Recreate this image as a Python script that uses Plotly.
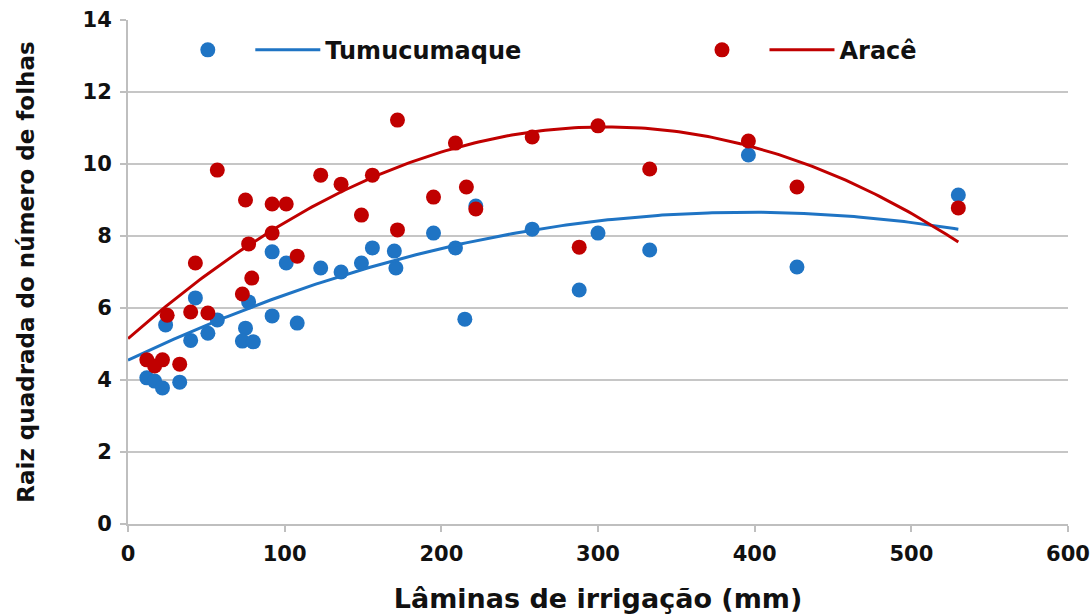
import numpy as np
import plotly.graph_objects as go

# Tumucumaque (blue) observations
tumu_x = [12, 17, 22, 33, 24, 43, 40, 51, 57, 75, 73, 80, 77, 92, 92, 101, 108, 123, 136, 149,
          156, 170, 171, 195, 209, 215, 222, 258, 288, 300, 333, 396, 427, 530]
tumu_y = [4.06, 3.97, 3.78, 3.94, 5.53, 6.28, 5.10, 5.30, 5.67, 5.44, 5.08, 5.06, 6.17, 7.56, 5.78,
          7.25, 5.58, 7.11, 7.00, 7.25, 7.67, 7.58, 7.11, 8.08, 7.67, 5.69, 8.83, 8.19, 6.50, 8.08,
          7.61, 10.25, 7.14, 9.14]

# Aracê (red) observations
arace_x = [12, 17, 22, 33, 25, 40, 51, 43, 57, 75, 77, 73, 79, 92, 92, 101, 108, 123, 136, 149,
           156, 172, 172, 195, 209, 216, 222, 258, 288, 300, 333, 396, 427, 530]
arace_y = [4.56, 4.39, 4.56, 4.44, 5.80, 5.89, 5.86, 7.25, 9.83, 9.00, 7.78, 6.39, 6.83, 8.89, 8.08,
           8.89, 7.44, 9.69, 9.44, 8.58, 9.69, 8.17, 11.22, 9.08, 10.58, 9.36, 8.75, 10.75, 7.69,
           11.06, 9.86, 10.64, 9.36, 8.78]

# Polynomial (order 2) trend coefficients: [a, b, c] for a*x^2 + b*x + c
tumu_trend = [-2.622e-5, 0.02076, 4.55]
arace_trend = [-6.321e-5, 0.03856, 5.15]
trend_xmax = [530, 530]

series_names = ["Tumucumaque", "Aracê"]
series_colors = ["#1F74C4", "#C00000"]

x_ticks = [0, 100, 200, 300, 400, 500, 600]
y_ticks = [0, 2, 4, 6, 8, 10, 12, 14]

FONT = "DejaVu Sans"
TXT = "#111111"

fig = go.Figure()

data = [(tumu_x, tumu_y, tumu_trend), (arace_x, arace_y, arace_trend)]
legends = ["legend", "legend2"]
for (xs, ys, coef), xmax, name, color, lg in zip(data, trend_xmax, series_names, series_colors, legends):
    xf = np.linspace(0, xmax, 200)
    yf = np.polyval(coef, xf)
    fig.add_trace(go.Scatter(x=xs, y=ys, mode="markers", name="",
                             marker=dict(color=color, size=15, line=dict(width=0)),
                             legend=lg, showlegend=True))
    fig.add_trace(go.Scatter(x=xf, y=yf, mode="lines", name=name,
                             line=dict(color=color, width=3),
                             legend=lg, showlegend=True))

legend_common = dict(orientation="h", yanchor="middle", y=0.94, xanchor="left",
                     bgcolor="rgba(0,0,0,0)",
                     font=dict(family=FONT, size=24, color=TXT, weight="bold"),
                     itemwidth=65, tracegroupgap=0)

fig.update_layout(
    width=1090, height=614,
    paper_bgcolor="white", plot_bgcolor="white",
    margin=dict(l=128, r=22, t=20, b=90),
    font=dict(family=FONT, color=TXT),
    legend=dict(x=0.045, **legend_common),
    legend2=dict(x=0.592, **legend_common),
    xaxis=dict(
        range=[0, 600], tickvals=x_ticks, showgrid=False, zeroline=False, automargin=False,
        showline=True, linecolor="#BFBFBF", linewidth=2,
        ticks="outside", ticklen=6, tickcolor="#BFBFBF", tickwidth=2, ticklabelstandoff=4,
        tickfont=dict(family=FONT, size=21, color=TXT, weight="bold"),
        title=dict(text="Lâminas de irrigação (mm)",
                   font=dict(family=FONT, size=27, color=TXT, weight="bold"),
                   standoff=24),
    ),
    yaxis=dict(
        range=[0, 14], tickvals=y_ticks, showgrid=True, gridcolor="#C6C6C6", gridwidth=2,
        zeroline=False, showline=True, linecolor="#BFBFBF", linewidth=2, automargin=False,
        ticks="outside", ticklen=6, tickcolor="#BFBFBF", tickwidth=2, ticklabelstandoff=4,
        tickfont=dict(family=FONT, size=21, color=TXT, weight="bold"),
        title=dict(text="Raiz quadrada do número de folhas",
                   font=dict(family=FONT, size=23, color=TXT, weight="bold"),
                   standoff=42),
    ),
)

fig.write_html("out.html", config={"displayModeBar": False},
               post_script="document.body.style.margin='0px';document.body.style.overflow='hidden';")
